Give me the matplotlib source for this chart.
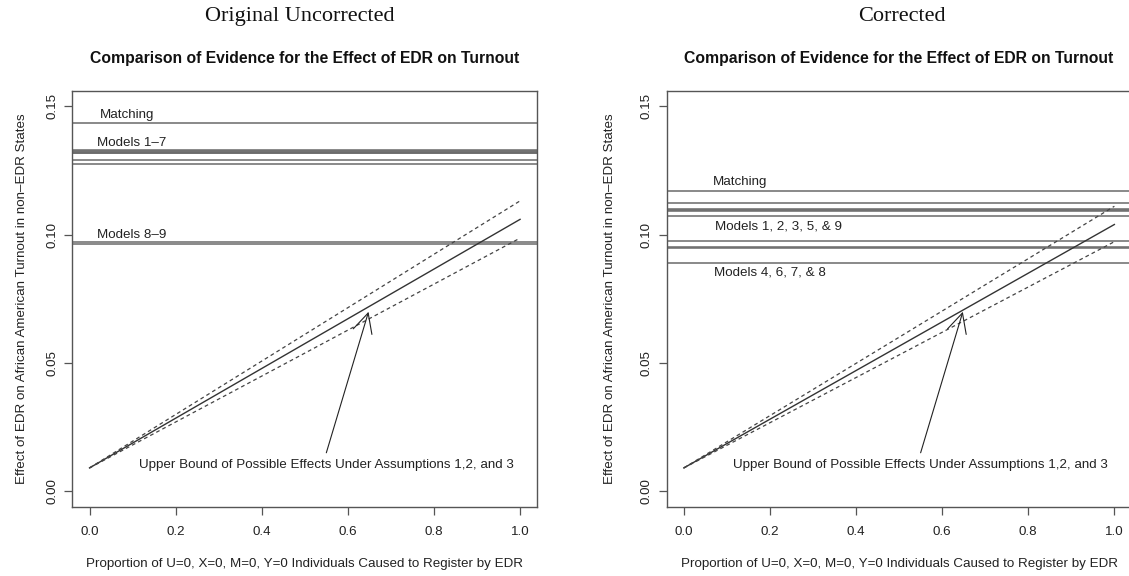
import matplotlib
matplotlib.use("Agg")
import matplotlib.pyplot as plt

plt.rcParams['font.family'] = ['Liberation Sans', 'DejaVu Sans']

# proportion caused to register (x) and upper bound curves
prop = [0.0, 0.5, 1.0]

orig_bound = [0.0091, 0.0575, 0.1059]
orig_bound_hi = [0.0091, 0.0611, 0.1131]
orig_bound_lo = [0.0091, 0.0538, 0.0986]

corr_bound = [0.0091, 0.0565, 0.1039]
corr_bound_hi = [0.0091, 0.0600, 0.1110]
corr_bound_lo = [0.0091, 0.0531, 0.0972]

# estimates shown as horizontal lines
orig_matching = [0.1433]
orig_models_1_7 = [0.1330, 0.1327, 0.1323, 0.1319, 0.1316, 0.1292, 0.1275]
orig_models_8_9 = [0.0972, 0.0964]

corr_matching = [0.1169]
corr_models_a = [0.1124, 0.1100, 0.1095, 0.1091, 0.1071]   # 1, 2, 3, 5, 9
corr_models_b = [0.0974, 0.0951, 0.0949, 0.0890]           # 4, 6, 7, 8

orig_labels = [('Matching', 0.023, 0.1464), ('Models 1\u20137', 0.018, 0.1357),
               ('Models 8\u20139', 0.018, 0.0999)]
corr_labels = [('Matching', 0.067, 0.1204), ('Models 1, 2, 3, 5, & 9', 0.072, 0.1033),
               ('Models 4, 6, 7, & 8', 0.069, 0.0853)]

arrow_tip = (0.648, 0.0699)
arrow_tail = (0.550, 0.0150)
note_pos = (0.550, 0.0104)
note = 'Upper Bound of Possible Effects Under Assumptions 1,2, and 3'

x_ticks = [0.0, 0.2, 0.4, 0.6, 0.8, 1.0]
y_ticks = [0.00, 0.05, 0.10, 0.15]

FS = 9.6
W, H = 1129, 576


def draw_panel(ax, header, header_x, bound, hi, lo, hlines, labels):
    for v in hlines:
        ax.axhline(v, color='#6a6a6a', lw=1.1)
    ax.plot(prop, bound, color='#333333', lw=1.0)
    ax.plot(prop, hi, color='#444444', lw=0.9, linestyle=(0, (3, 2.5)))
    ax.plot(prop, lo, color='#444444', lw=0.9, linestyle=(0, (3, 2.5)))
    for txt, x, y in labels:
        ax.text(x, y, txt, fontsize=FS, ha='left', va='center', color='#222222')
    ax.annotate('', xy=arrow_tip, xytext=arrow_tail, textcoords='data',
                arrowprops=dict(arrowstyle='->,head_length=0.7,head_width=0.35',
                                mutation_scale=20, lw=0.8, color='#222222',
                                shrinkA=0, shrinkB=0))
    ax.text(note_pos[0], note_pos[1], note, fontsize=FS, ha='center', va='center',
            color='#222222')

    ax.set_xlim(-0.04, 1.04)
    ax.set_ylim(-0.006, 0.156)
    ax.set_xticks(x_ticks)
    ax.set_xticklabels(['0.0', '0.2', '0.4', '0.6', '0.8', '1.0'])
    ax.set_yticks(y_ticks)
    ax.set_yticklabels(['0.00', '0.05', '0.10', '0.15'])
    ax.tick_params(axis='both', labelsize=FS, length=6, width=0.9, color='#555555',
                   labelcolor='#222222')
    ax.tick_params(axis='x', pad=8)
    ax.tick_params(axis='y', labelrotation=90, pad=4)
    for lab in ax.get_yticklabels():
        lab.set_va('center')
    for s in ax.spines.values():
        s.set_color('#555555')
        s.set_linewidth(1.0)

    ax.set_xlabel('Proportion of U=0, X=0, M=0, Y=0 Individuals Caused to Register by EDR',
                  fontsize=FS, color='#222222')
    ax.xaxis.set_label_coords(0.5, -0.1377)
    ax.xaxis.label.set_va('center')
    ax.set_ylabel('Effect of EDR on African American Turnout in non\u2013EDR States',
                  fontsize=FS, color='#222222')
    ax.yaxis.label.set_va('center')

    ax.text(0.5, 1.0779, 'Comparison of Evidence for the Effect of EDR on Turnout',
            transform=ax.transAxes, ha='center', va='center', fontsize=11.3,
            fontweight='bold', color='#111111')
    ax.text(header_x, 1.178, header, transform=ax.transAxes, ha='center', va='center',
            fontsize=16, family=['Liberation Serif', 'DejaVu Serif'], color='#111111')


fig = plt.figure(figsize=(W / 100, H / 100), dpi=100)
ax1 = fig.add_axes([72.3 / W, 1 - 506.7 / H, 465 / W, 416 / H])
ax2 = fig.add_axes([666.6 / W, 1 - 506.7 / H, 465 / W, 416 / H])

draw_panel(ax1, 'Original Uncorrected', 0.489, orig_bound, orig_bound_hi, orig_bound_lo,
           orig_matching + orig_models_1_7 + orig_models_8_9, orig_labels)
draw_panel(ax2, 'Corrected', 0.506, corr_bound, corr_bound_hi, corr_bound_lo,
           corr_matching + corr_models_a + corr_models_b, corr_labels)

ax1.yaxis.set_label_coords(-0.1088, 0.5)
ax2.yaxis.set_label_coords(-0.1217, 0.5)

plt.savefig('out.png', dpi=100)
